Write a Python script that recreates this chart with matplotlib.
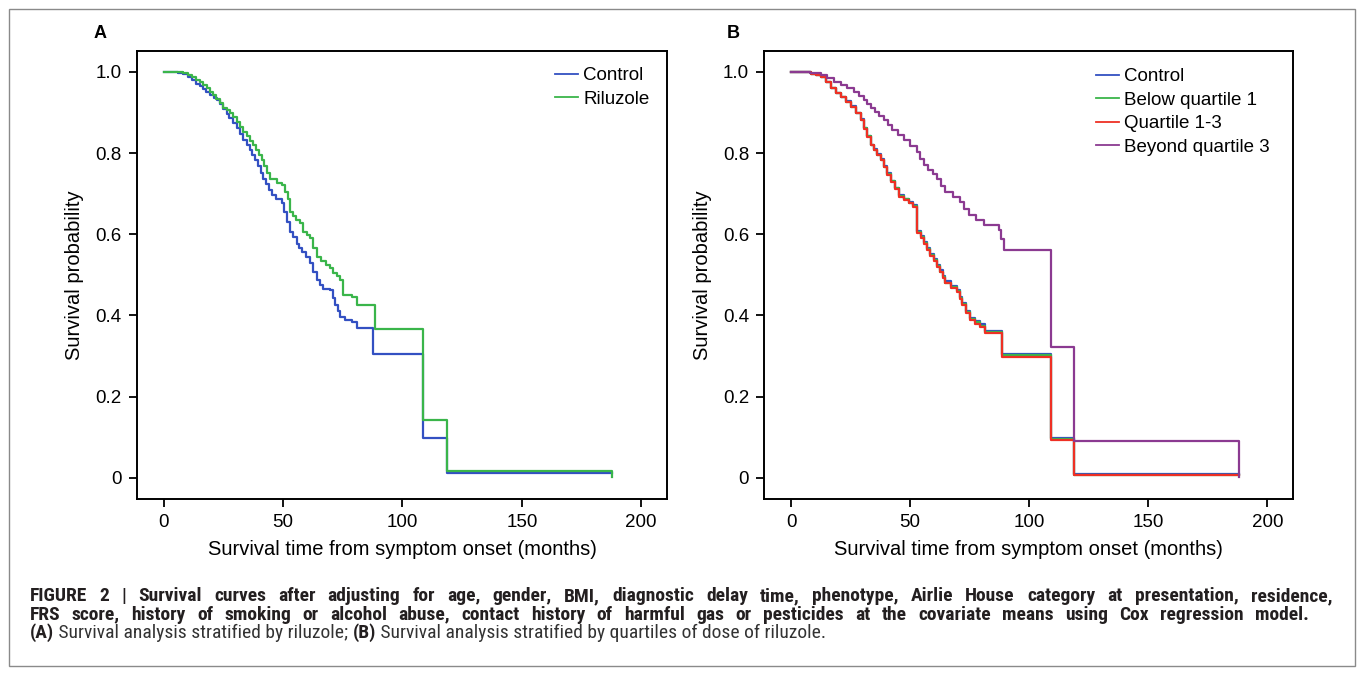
import matplotlib
matplotlib.use("Agg")
import matplotlib.pyplot as plt
from matplotlib.patches import Rectangle
from matplotlib import font_manager

plt.rcParams['font.family'] = ['Liberation Sans', 'DejaVu Sans']

# ---------------- data ----------------
# Panel A (stratified by riluzole): step points (months, survival)
a_control_t = [0, 6, 8, 10, 12, 13.7, 15, 16.5, 17.9, 19.5, 21, 22.1, 23.5, 25, 26.3,
               27.5, 29, 30.5, 31.8, 33.2, 34.7, 36, 37, 38.2, 39.5, 40.6, 41.7, 42.8, 44, 45.2,
               47, 49.4, 50.5, 51.5, 52.9, 54.2, 55.7, 56.8, 57.8, 59.5, 61.2, 62.6, 64.0, 65.5,
               66.8, 69.6, 70.8, 71.8, 72.8, 73.8, 76, 78.7, 80.8, 87.5, 108.8, 118.8, 187.9]
a_control_s = [1.0, .998, .994, .988, .980, .971, .965, .958, .951, .944, .936, .930, .920, .908,
               .897, .887, .874, .861, .848, .833, .819, .807, .795, .783, .768, .752, .737, .723,
               .709, .696, .686, .676, .655, .630, .606, .592, .577, .567, .557, .543, .528, .508,
               .487, .474, .466, .462, .443, .425, .411, .397, .390, .384, .368, .305, .0985,
               .011, .011]

a_riluzole_t = [0, 8, 10, 12, 13.5, 15.1, 16.5, 18, 19.4, 20.7, 22, 23.5, 25, 26.4, 27.7, 29,
                30.5, 31.9, 33.3, 34.7, 36, 37.5, 38.7, 40, 41.0, 42.2, 43.4, 44.5, 47.3, 49.4,
                50.8, 52.0, 52.9, 54.2, 55.6, 57.0, 58.4, 59.8, 61.2, 62.6, 64.0, 66.0, 67.8,
                69.6, 71.0, 72.4, 73.8, 75.2, 78.7, 80.8, 88.5, 108.8, 118.8, 187.9]
a_riluzole_s = [1.0, .997, .993, .987, .981, .975, .968, .960, .951, .943, .934, .923, .912, .905,
                .898, .888, .877, .865, .852, .841, .830, .819, .807, .795, .783, .768, .752, .737,
                .725, .721, .705, .688, .655, .645, .636, .627, .606, .598, .590, .567, .544, .533,
                .524, .516, .505, .496, .487, .450, .446, .425, .367, .142, .017, .002]

# Panel B (stratified by quartiles of riluzole dose)
b_t = [0, 8.2, 10.5, 12.4, 14.5, 16.6, 18.7, 20.8, 22.9, 25.0, 27.1, 29.2, 30.6, 32.0, 33.4,
       34.8, 36.2, 37.6, 39.0, 40.4, 41.8, 43.5, 45.2, 47.3, 49.4, 51.2, 53.0, 54.4, 55.8, 57.1,
       58.5, 59.9, 61.3, 62.5, 63.6, 64.8, 67.2, 69.7, 70.8, 71.8, 73.5, 75.3, 77.4, 79.5, 81.6,
       88.6, 109.1, 118.9, 188.1]
b_control_s = [1.0, .995, .992, .988, .975, .960, .949, .939, .927, .915, .899, .883, .862, .842,
               .821, .809, .797, .786, .768, .750, .732, .715, .696, .688, .680, .672, .609, .595,
               .581, .566, .552, .539, .525, .511, .498, .484, .473, .463, .446, .431, .412, .394,
               .386, .378, .362, .305, .098, .009, .009]
b_below_s = [1.0, .995, .992, .988, .975, .959, .948, .938, .926, .914, .898, .882, .861, .841,
             .820, .808, .796, .784, .766, .748, .730, .713, .694, .686, .678, .670, .606, .592,
             .578, .563, .549, .536, .522, .508, .495, .481, .470, .460, .443, .428, .409, .391,
             .383, .375, .359, .302, .096, .008, .008]
b_q13_s = [1.0, .995, .992, .988, .975, .959, .948, .938, .926, .914, .898, .881, .860, .840,
           .819, .807, .795, .783, .765, .747, .729, .711, .692, .684, .676, .668, .604, .590,
           .576, .561, .547, .534, .520, .506, .493, .479, .468, .458, .441, .425, .406, .388,
           .380, .372, .356, .298, .093, .008, .008]

b_beyond_t = [0, 8, 12.4, 15.2, 18.0, 20.8, 23.6, 26.4, 28.5, 30.6, 32.0, 33.4, 35.3, 37.1, 39.0,
              40.7, 42.5, 44.9, 47.3, 50.1, 53.0, 54.3, 55.7, 57.6, 59.4, 61.3, 63.0, 64.8, 67.9,
              71.1, 72.8, 74.6, 77.7, 80.9, 87.2, 88.3, 89.3, 109.1, 118.9, 188.1]
b_beyond_s = [1.0, .998, .993, .984, .975, .967, .959, .951, .940, .930, .920, .910, .900, .891,
              .881, .868, .856, .844, .832, .818, .803, .786, .770, .759, .748, .737, .720, .704,
              .692, .680, .663, .647, .634, .622, .610, .588, .561, .323, .090, .002]

xticks = [0, 50, 100, 150, 200]
yticks = [0, 0.2, 0.4, 0.6, 0.8, 1.0]
yticklabels = ["0", "0.2", "0.4", "0.6", "0.8", "1.0"]

# ---------------- figure ----------------
W, H = 1358, 674
fig = plt.figure(figsize=(W / 100, H / 100), dpi=100)


def px_axes(l, t, r, b):
    return fig.add_axes([l / W, 1 - b / H, (r - l) / W, (b - t) / H])


axA = px_axes(137, 50.7, 667, 499)
axB = px_axes(764.4, 50.7, 1293, 499)

C_BLUE = '#3350c2'
C_GREEN = '#3ab54a'
C_RED = '#ee3024'
C_PURPLE = '#8b3a91'
LW = 1.6

axA.step(a_control_t, a_control_s, where='post', color=C_BLUE, lw=LW, label='Control')
axA.step(a_riluzole_t, a_riluzole_s, where='post', color=C_GREEN, lw=LW, label='Riluzole')

axB.step(b_t, b_control_s, where='post', color=C_BLUE, lw=LW, label='Control')
axB.step(b_t, b_below_s, where='post', color=C_GREEN, lw=LW, label='Below quartile 1')
axB.step(b_t, b_q13_s, where='post', color=C_RED, lw=LW, label='Quartile 1-3')
axB.step(b_beyond_t, b_beyond_s, where='post', color=C_PURPLE, lw=LW, label='Beyond quartile 3')

leg_anchor = {axA: (555, 67), axB: (1096, 68)}
for ax, (l, r) in ((axA, (137, 667)), (axB, (764.4, 1293))):
    ax.set_xlim(-11.2, 210.8)
    ax.set_ylim(-0.052, 1.052)
    ax.set_xticks(xticks)
    ax.set_yticks(yticks)
    ax.set_yticklabels(yticklabels)
    ax.tick_params(direction='out', length=6, width=1.3, labelsize=13.5, pad=5, colors='black')
    for sp in ax.spines.values():
        sp.set_linewidth(1.4)
    ax.set_xlabel('Survival time from symptom onset (months)', fontsize=14.5, labelpad=6)
    ax.set_ylabel('Survival probability', fontsize=14.5, labelpad=8)
    axp, ayp = leg_anchor[ax]
    bx = (axp - l) / (r - l)
    by = 1 - (ayp - 50.7) / (499 - 50.7)
    leg = ax.legend(loc='upper left', bbox_to_anchor=(bx, by), frameon=False, fontsize=13.5,
                    handlelength=1.25, handletextpad=0.25, labelspacing=0.34,
                    borderpad=0, borderaxespad=0)
    for h in leg.get_lines():
        h.set_linewidth(1.3)

fig.text(100 / W, 1 - 33 / H, 'A', fontsize=13, fontweight='bold', ha='center', va='center')
fig.text(733 / W, 1 - 33 / H, 'B', fontsize=13, fontweight='bold', ha='center', va='center')

# figure border
fig.patches.append(Rectangle((8.5 / W, 1 - 666 / H), (1355 - 8.5) / W, (666 - 8.5) / H,
                             transform=fig.transFigure, fill=False, ec='#8a8a8a', lw=1.0))

# caption
cap_family = ['Liberation Sans']
for fam in ['Roboto Condensed', 'Liberation Sans Narrow', 'Arial Narrow']:
    try:
        font_manager.findfont(font_manager.FontProperties(family=fam), fallback_to_default=False)
        cap_family = [fam, 'Liberation Sans']
        break
    except Exception:
        pass

cap1 = ("FIGURE 2 | Survival curves after adjusting for age, gender, BMI, diagnostic delay time, "
        "phenotype, Airlie House category at presentation, residence,")
cap2 = ("FRS score, history of smoking or alcohol abuse, contact history of harmful gas or "
        "pesticides at the covariate means using Cox regression model.")
cap3_parts = [("(A)", 'bold'), (" Survival analysis stratified by riluzole; ", 'normal'),
              ("(B)", 'bold'), (" Survival analysis stratified by quartiles of dose of riluzole.", 'normal')]

CAP_FS = 14
fig.canvas.draw()
renderer = fig.canvas.get_renderer()


def justified(line, base_px, x0, x1):
    words = line.split(' ')
    objs = []
    total = 0.0
    for w in words:
        t = fig.text(0, 1 - base_px / H, w, fontsize=CAP_FS, fontweight='bold', family=cap_family,
                     va='baseline', ha='left', color='#231f20')
        wd = t.get_window_extent(renderer=renderer).width
        objs.append((t, wd))
        total += wd
    gap = (x1 - x0 - total) / (len(words) - 1)
    x = x0
    for t, wd in objs:
        t.set_x(x / W)
        x += wd + gap


justified(cap1, 601, 30, 1332)
justified(cap2, 619.5, 30, 1309)

x = 30
for txt, wt in cap3_parts:
    t = fig.text(x / W, 1 - 638 / H, txt, fontsize=CAP_FS, fontweight=wt, family=cap_family,
                 va='baseline', ha='left', color='#231f20' if wt == 'bold' else '#333333')
    bb = t.get_window_extent(renderer=renderer)
    x += bb.width

fig.savefig('out.png', dpi=100)
